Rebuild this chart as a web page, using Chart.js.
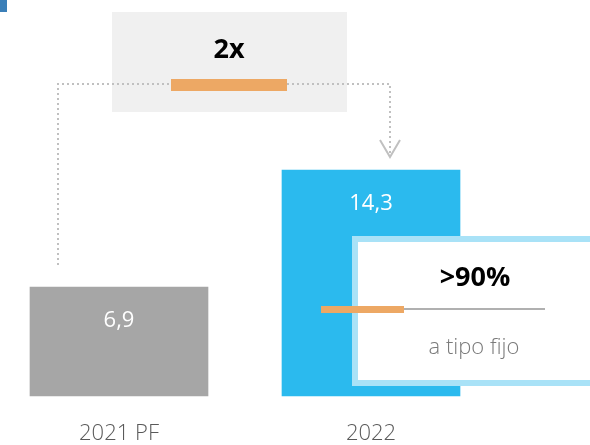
<!DOCTYPE html>
<html>
<head>
<meta charset="utf-8">
<script src="https://cdn.jsdelivr.net/npm/chart.js@4"></script>
<style>
  body { margin: 0; background: #fff; }
  #wrap { width: 590px; height: 445px; }
</style>
</head>
<body>
<div id="wrap"><canvas id="chart" width="590" height="445"></canvas></div>
<script>
var categories = ['2021 PF', '2022'];
var values = [6.9, 14.3];
var valueLabels = ['6,9', '14,3'];
var barColors = ['#a6a6a6', '#2bbaee'];
var growthLabel = '2x';
var fixedShare = '>90%';
var fixedText = 'a tipo fijo';

var FONT = "'Open Sans', 'Noto Sans', sans-serif";

// extra drawing: value labels, the 2x box with dotted arrow, and the >90% box
var extras = {
  id: 'extras',
  afterDatasetsDraw: function (c) {
    var ctx = c.ctx;
    var bars = c.getDatasetMeta(0).data;
    ctx.save();

    // small corner mark
    ctx.fillStyle = '#3b7fb8';
    ctx.fillRect(0, 0, 7, 12);

    // value labels inside bars
    ctx.fillStyle = '#fff';
    ctx.font = '22px ' + FONT;
    ctx.textAlign = 'center';
    ctx.textBaseline = 'middle';
    bars.forEach(function (b, i) {
      ctx.fillText(valueLabels[i], b.x, b.y + 34);
    });

    // grey box with 2x
    ctx.fillStyle = '#f0f0f0';
    ctx.fillRect(112, 12, 235, 100);

    // dotted path
    ctx.strokeStyle = '#c0c0c0';
    ctx.lineWidth = 2;
    ctx.setLineDash([2, 3]);
    ctx.beginPath();
    ctx.moveTo(58, 265);
    ctx.lineTo(58, 84);
    ctx.lineTo(390, 84);
    ctx.lineTo(390, 154);
    ctx.stroke();
    ctx.setLineDash([]);
    ctx.beginPath();
    ctx.moveTo(380, 140);
    ctx.lineTo(390, 157);
    ctx.lineTo(400, 140);
    ctx.stroke();

    ctx.fillStyle = '#eda864';
    ctx.fillRect(171, 79, 116, 12);

    ctx.fillStyle = '#000';
    ctx.font = 'bold 27px ' + FONT;
    ctx.fillText(growthLabel, 229, 50);

    // box over blue bar, runs off the right edge
    ctx.fillStyle = '#a9e2f7';
    ctx.fillRect(352, 236, 260, 150);
    ctx.fillStyle = '#fff';
    ctx.fillRect(358, 242, 260, 138);

    ctx.fillStyle = '#b0b0b0';
    ctx.fillRect(404, 308, 141, 2);
    ctx.fillStyle = '#eda864';
    ctx.fillRect(321, 306, 83, 7);

    ctx.fillStyle = '#000';
    ctx.font = 'bold 27px ' + FONT;
    ctx.fillText(fixedShare, 475, 278);

    ctx.fillStyle = '#7a7a7a';
    ctx.font = '300 22px ' + FONT;
    ctx.fillText(fixedText, 474, 348);

    ctx.restore();
  }
};

new Chart(document.getElementById('chart').getContext('2d'), {
  type: 'bar',
  data: {
    labels: categories,
    datasets: [{
      data: values,
      backgroundColor: barColors,
      barThickness: 178,
      clip: false
    }]
  },
  options: {
    responsive: false,
    animation: false,
    layout: { padding: { left: 119, right: 219, top: 17, bottom: 0 } },
    plugins: {
      legend: { display: false },
      tooltip: { enabled: false }
    },
    scales: {
      x: {
        offset: false,
        grid: { display: false, drawTicks: false },
        border: { display: false },
        afterFit: function (s) { s.height = 49; },
        ticks: {
          color: '#595959',
          font: { family: FONT, size: 22, weight: 300 },
          padding: 25,
          autoSkip: false,
          maxRotation: 0
        }
      },
      y: {
        display: false,
        min: 0,
        max: 24
      }
    }
  },
  plugins: [extras]
});
</script>
</body>
</html>
